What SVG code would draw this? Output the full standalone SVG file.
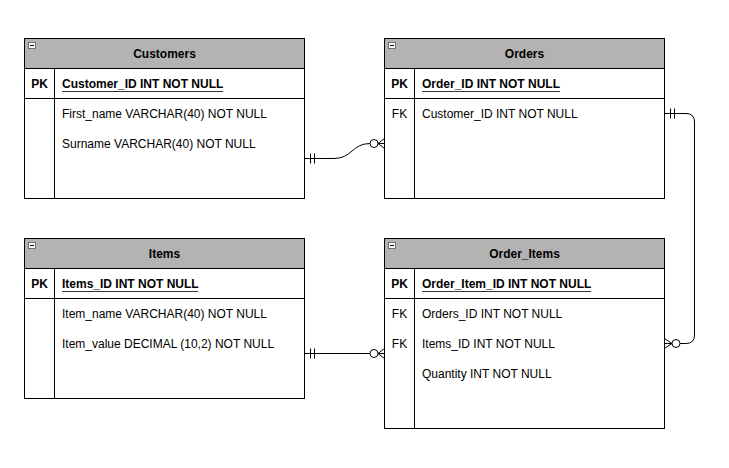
<svg xmlns="http://www.w3.org/2000/svg" width="729" height="468" viewBox="0 0 729 468">
<style>
.box{fill:#fff;stroke:#000;stroke-width:1}
.hdr{fill:#b3b3b3;stroke:#000;stroke-width:1}
.ln{stroke:#000;stroke-width:1;fill:none}
.ul{stroke:#333;stroke-width:1;fill:none}
.t{font-family:"Liberation Sans",Arial,sans-serif;font-size:12px;fill:#000}
.b{font-weight:bold}
.c{text-anchor:middle}
.ic{fill:#fff;stroke:#555;stroke-width:0.8}
.con{stroke:#000;stroke-width:1;fill:none}
</style>
<defs>
<g id="minus"><rect class="ic" x="0.5" y="0.5" width="7" height="6"/><line x1="2" y1="3.5" x2="6" y2="3.5" stroke="#000" stroke-width="1"/></g>
</defs>
<rect width="729" height="468" fill="#fff"/>

<g id="customers">
<rect class="box" x="24.5" y="38.5" width="280" height="160"/>
<rect class="hdr" x="24.5" y="38.5" width="280" height="30"/>
<use href="#minus" x="28" y="42"/>
<text class="t b c" x="164.5" y="58">Customers</text>
<line class="ln" x1="24.5" y1="98.5" x2="304.5" y2="98.5"/>
<line class="ln" x1="54.5" y1="68.5" x2="54.5" y2="198.5"/>
<text class="t b c" x="39.5" y="88">PK</text>
<text class="t b" x="62" y="88">Customer_ID INT NOT NULL</text>
<line class="ul" x1="62" y1="91.5" x2="223" y2="91.5"/>
<text class="t" x="62" y="118">First_name VARCHAR(40) NOT NULL</text>
<text class="t" x="62" y="148">Surname VARCHAR(40) NOT NULL</text>
</g>

<g id="orders">
<rect class="box" x="384.5" y="38.5" width="280" height="160"/>
<rect class="hdr" x="384.5" y="38.5" width="280" height="30"/>
<use href="#minus" x="388" y="42"/>
<text class="t b c" x="524.5" y="58">Orders</text>
<line class="ln" x1="384.5" y1="98.5" x2="664.5" y2="98.5"/>
<line class="ln" x1="414.5" y1="68.5" x2="414.5" y2="198.5"/>
<text class="t b c" x="399.5" y="88">PK</text>
<text class="t b" x="422" y="88">Order_ID INT NOT NULL</text>
<line class="ul" x1="422" y1="91.5" x2="560" y2="91.5"/>
<text class="t c" x="399.5" y="118">FK</text>
<text class="t" x="422" y="118">Customer_ID INT NOT NULL</text>
</g>

<g id="items">
<rect class="box" x="24.5" y="238.5" width="280" height="160"/>
<rect class="hdr" x="24.5" y="238.5" width="280" height="30"/>
<use href="#minus" x="28" y="242"/>
<text class="t b c" x="164.5" y="258">Items</text>
<line class="ln" x1="24.5" y1="298.5" x2="304.5" y2="298.5"/>
<line class="ln" x1="54.5" y1="268.5" x2="54.5" y2="398.5"/>
<text class="t b c" x="39.5" y="288">PK</text>
<text class="t b" x="62" y="288">Items_ID INT NOT NULL</text>
<line class="ul" x1="62" y1="291.5" x2="198" y2="291.5"/>
<text class="t" x="62" y="318">Item_name VARCHAR(40) NOT NULL</text>
<text class="t" x="62" y="348">Item_value DECIMAL (10,2) NOT NULL</text>
</g>

<g id="order_items">
<rect class="box" x="384.5" y="238.5" width="280" height="190"/>
<rect class="hdr" x="384.5" y="238.5" width="280" height="30"/>
<use href="#minus" x="388" y="242"/>
<text class="t b c" x="524.5" y="258">Order_Items</text>
<line class="ln" x1="384.5" y1="298.5" x2="664.5" y2="298.5"/>
<line class="ln" x1="414.5" y1="268.5" x2="414.5" y2="428.5"/>
<text class="t b c" x="399.5" y="288">PK</text>
<text class="t b" x="422" y="288">Order_Item_ID INT NOT NULL</text>
<line class="ul" x1="422" y1="291.5" x2="591" y2="291.5"/>
<text class="t c" x="399.5" y="318">FK</text>
<text class="t" x="422" y="318">Orders_ID INT NOT NULL</text>
<text class="t c" x="399.5" y="348">FK</text>
<text class="t" x="422" y="348">Items_ID INT NOT NULL</text>
<text class="t" x="422" y="378">Quantity INT NOT NULL</text>
</g>

<g id="connectors">
<path class="con" d="M304.5 158.5 L334 158.5 C352 158.5 352 143.5 370 143.5 L384.5 143.5"/>
<path class="con" d="M310.5 153.5 V163.5 M314.5 153.5 V163.5"/>
<circle class="con" cx="374" cy="143.5" r="4" style="fill:#fff"/>
<path class="con" d="M384.5 138.5 L378 143.5 L384.5 148.5"/>
<path class="con" d="M664.5 113.5 H686 Q694.5 113.5 694.5 122 V335 Q694.5 343.5 686 343.5 H664.5"/>
<path class="con" d="M670.5 108.5 V118.5 M674.5 108.5 V118.5"/>
<circle class="con" cx="676" cy="343.5" r="4" style="fill:#fff"/>
<path class="con" d="M664.5 338.5 L672 343.5 L664.5 348.5"/>
<path class="con" d="M304.5 353.5 H384.5"/>
<path class="con" d="M310.5 348.5 V358.5 M314.5 348.5 V358.5"/>
<circle class="con" cx="374" cy="353.5" r="4" style="fill:#fff"/>
<path class="con" d="M384.5 348.5 L378 353.5 L384.5 358.5"/>
</g>
</svg>
